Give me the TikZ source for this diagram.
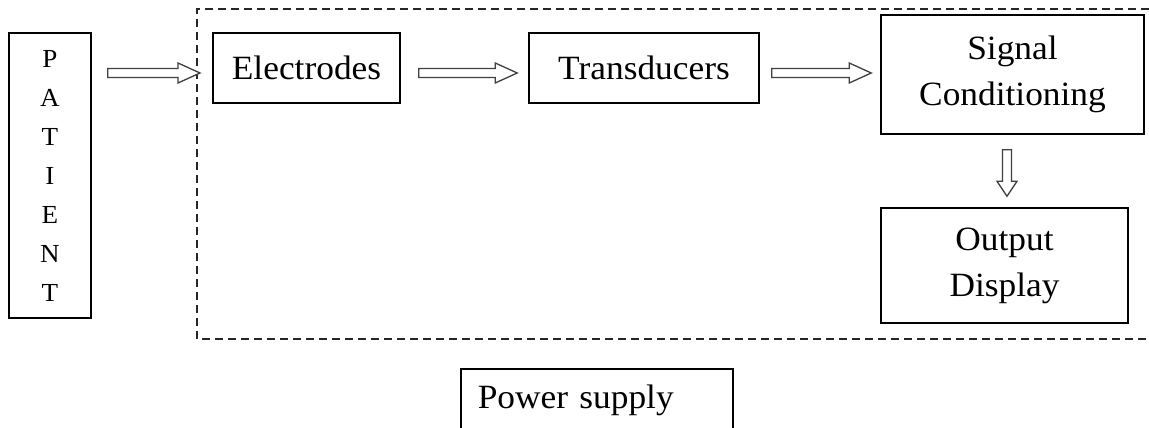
\documentclass[tikz,border=0pt]{standalone}
\usepackage{fontspec}
\setmainfont[FakeStretch=1.04]{Liberation Serif}
\usetikzlibrary{calc}

% hollow block arrows between two points
\newcommand\harrow[2]{\draw[arr] let \p1=(#1), \p2=(#2) in
  (\x1,\y2+4.5) -- (\x2-22,\y2+4.5) -- (\x2-22,\y2+10) -- (\x2,\y2)
  -- (\x2-22,\y2-10) -- (\x2-22,\y2-4.5) -- (\x1,\y2-4.5) -- cycle;}
\newcommand\varrow[2]{\draw[arr] let \p1=(#1), \p2=(#2) in
  (\x1-4.5,\y1) -- (\x1-4.5,\y2+15) -- (\x1-10,\y2+15) -- (\x1,\y2)
  -- (\x1+10,\y2+15) -- (\x1+4.5,\y2+15) -- (\x1+4.5,\y1) -- cycle;}

\begin{document}
\begin{tikzpicture}[
  x=1pt, y=-1pt,
  box/.style  = {draw, line width=1.5pt, inner sep=0pt, align=center,
                 font=\fontsize{34}{46}\selectfont},
  arr/.style  = {draw=black!75, line width=1.3pt, fill=white},
  sysline/.style = {draw=black!85, line width=1.3pt, dash pattern=on 8pt off 5pt},
]
\useasboundingbox (0,0) rectangle (1149,428);
% patient
\node[box, minimum width=82, minimum height=285,
      font=\fontsize{26}{39}\selectfont] (pat) at (50,175.5) {P\\A\\T\\I\\E\\N\\T};
% system blocks
\node[box, minimum width=187, minimum height=70] (elec) at (306.5,68) {Electrodes};
\node[box, minimum width=230, minimum height=70] (trans) at (644,68) {Transducers};
\node[box, minimum width=263, minimum height=119] (sig) at (1012.5,74.5) {Signal\\Conditioning};
\node[box, minimum width=247, minimum height=115] (out) at (1004.5,265.5) {Output\\Display};
\node[box, anchor=north west, text width=238, align=left, inner xsep=17,
      inner ysep=16, text depth=50] (power) at (460,368) {Power supply};
% system boundary
\draw[sysline] (1149,9) -- (197,9) -- (197,339) -- (1149,339);
\coordinate (sysin) at (200,73);
% arrows
\harrow{$(pat.east)+(16,0)$}{sysin}
\harrow{$(elec.east)+(18,0)$}{$(trans.west)+(-11,5)$}
\harrow{$(trans.east)+(12,0)$}{$(sig.west)+(-9,-1.5)$}
\varrow{$(sig.south)+(-5.5,15)$}{$(out.north)+(2.5,-11)$}
\end{tikzpicture}
\end{document}
